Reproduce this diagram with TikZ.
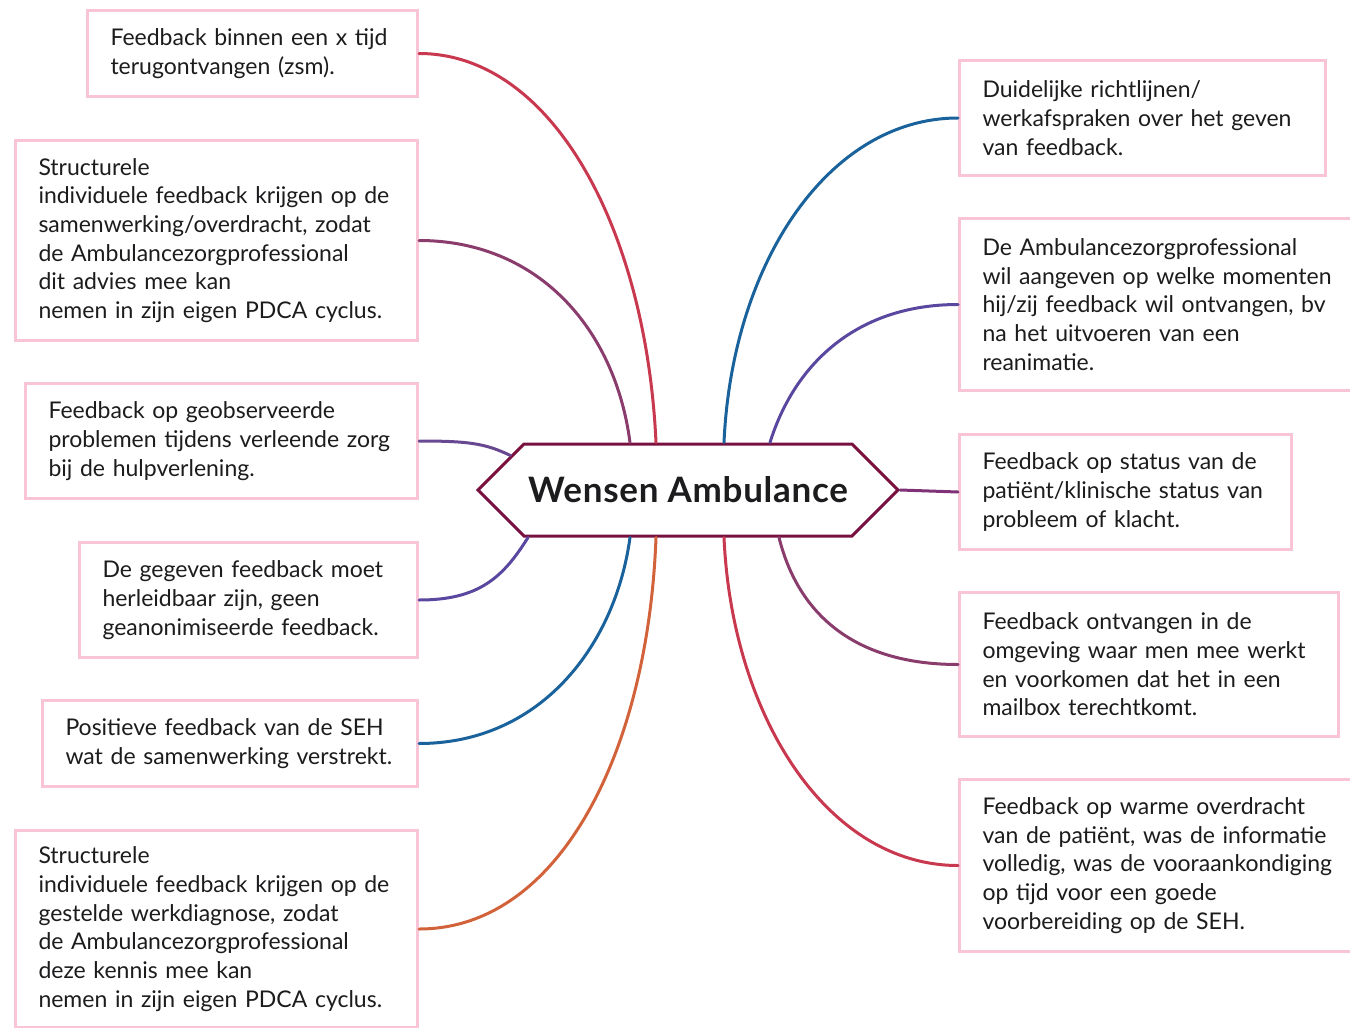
\documentclass[tikz,border=0pt]{standalone}
\usepackage{fontspec}
\setmainfont{Lato}
\usetikzlibrary{shapes.symbols}

\begin{document}
\begin{tikzpicture}[x=1pt,y=-1pt,line cap=round,
  wish/.style={draw=custcol_pink, line width=3pt, fill=white, anchor=north west, align=left,
    inner xsep=23pt, inner ysep=0pt, text=custcol_ink, font=\fontsize{23pt}{28.7pt}\selectfont},
  hubshape/.style={signal, signal to=west and east, signal pointer angle=90, draw=custcol_hub,
    line width=3pt, fill=white, minimum width=420pt, minimum height=92pt, inner sep=0pt,
    text=custcol_ink, font=\fontsize{35pt}{35pt}\bfseries\selectfont\addfontfeature{LetterSpace=2}},
  link/.style={line width=3pt}]
\useasboundingbox (0,0) rectangle (1350,1028);
\definecolor{custcol_pink}{RGB}{248, 196, 214}
\definecolor{custcol_ink}{RGB}{28, 28, 30}
\definecolor{custcol_hub}{RGB}{120, 16, 64}
\definecolor{custcol_red}{RGB}{200, 56, 78}
\definecolor{custcol_plum}{RGB}{138, 60, 108}
\definecolor{custcol_violet}{RGB}{104, 72, 144}
\definecolor{custcol_indigo}{RGB}{90, 72, 160}
\definecolor{custcol_blue}{RGB}{26, 98, 156}
\definecolor{custcol_orange}{RGB}{210, 98, 58}
\definecolor{custcol_magenta}{RGB}{128, 50, 120}
% left side
\node[wish, text width=284pt, minimum height=86pt] (l1) at (86,9) {Feedback binnen een x tijd\\terugontvangen (zsm).};
\node[wish, text width=356pt, minimum height=200pt] (l2) at (14,139) {Structurele\\individuele feedback krijgen op de\\samenwerking/overdracht, zodat\\de Ambulancezorgprofessional\\dit advies mee kan\\nemen in zijn eigen PDCA cyclus.};
\node[wish, text width=346pt, minimum height=115pt] (l3) at (24,382) {Feedback op geobserveerde\\problemen tijdens verleende zorg\\bij de hulpverlening.};
\node[wish, text width=292pt, minimum height=115pt] (l4) at (78,541) {De gegeven feedback moet\\herleidbaar zijn, geen\\geanonimiseerde feedback.};
\node[wish, text width=329pt, minimum height=86pt] (l5) at (41,699) {Positieve feedback van de SEH\\wat de samenwerking verstrekt.};
\node[wish, text width=356pt, minimum height=197pt] (l6) at (14,829) {Structurele\\individuele feedback krijgen op de\\gestelde werkdiagnose, zodat\\de Ambulancezorgprofessional\\deze kennis mee kan\\nemen in zijn eigen PDCA cyclus.};
% right side
\node[wish, text width=320pt, minimum height=115pt] (r1) at (958,59) {Duidelijke richtlijnen/\\werkafspraken over het geven\\van feedback.};
\node[wish, text width=366pt, minimum height=172pt] (r2) at (958,217) {De Ambulancezorgprofessional\\wil aangeven op welke momenten\\hij/zij feedback wil ontvangen, bv\\na het uitvoeren van een\\reanimatie.};
\node[wish, text width=286pt, minimum height=115pt] (r3) at (958,433) {Feedback op status van de\\patiënt/klinische status van\\probleem of klacht.};
\node[wish, text width=333pt, minimum height=144pt] (r4) at (958,591) {Feedback ontvangen in de\\omgeving waar men mee werkt\\en voorkomen dat het in een\\mailbox terechtkomt.};
\node[wish, text width=366pt, minimum height=172pt] (r5) at (958,778) {Feedback op warme overdracht\\van de patiënt, was de informatie\\volledig, was de vooraankondiging\\op tijd voor een goede\\voorbereiding op de SEH.};
\node[hubshape] (hub) at (688,490) {Wensen Ambulance};
\draw[link, custcol_red] ([xshift=-32pt]hub.north) .. controls +(-10,-216) and +(132,0) .. (l1.east);
\draw[link, custcol_plum] ([xshift=-58pt]hub.north) .. controls +(-15,-115) and +(118,0) .. (l2.east);
\draw[link, custcol_violet] (hub.169) .. controls +(-25,-12) and +(50,0) .. (l3.east);
\draw[link, custcol_indigo] ([xshift=-160pt]hub.south) .. controls +(-25,40) and +(60,0) .. (l4.east);
\draw[link, custcol_blue] ([xshift=-58pt]hub.south) .. controls +(-15,110) and +(120,0) .. (l5.east);
\draw[link, custcol_orange] ([xshift=-32pt]hub.south) .. controls +(-8,215) and +(140,0) .. (l6.east);
\draw[link, custcol_blue] ([xshift=36pt]hub.north) .. controls +(8,-180) and +(-129,0) .. (r1.west);
\draw[link, custcol_indigo] ([xshift=82pt]hub.north) .. controls +(25,-80) and +(-100,0) .. (r2.west);
\draw[link, custcol_magenta] (hub.east) -- (r3.west);
\draw[link, custcol_plum] ([xshift=91pt]hub.south) .. controls +(20,80) and +(-100,0) .. (r4.west);
\draw[link, custcol_red] ([xshift=36pt]hub.south) .. controls +(8,180) and +(-130,0) .. (r5.west);
\end{tikzpicture}
\end{document}
